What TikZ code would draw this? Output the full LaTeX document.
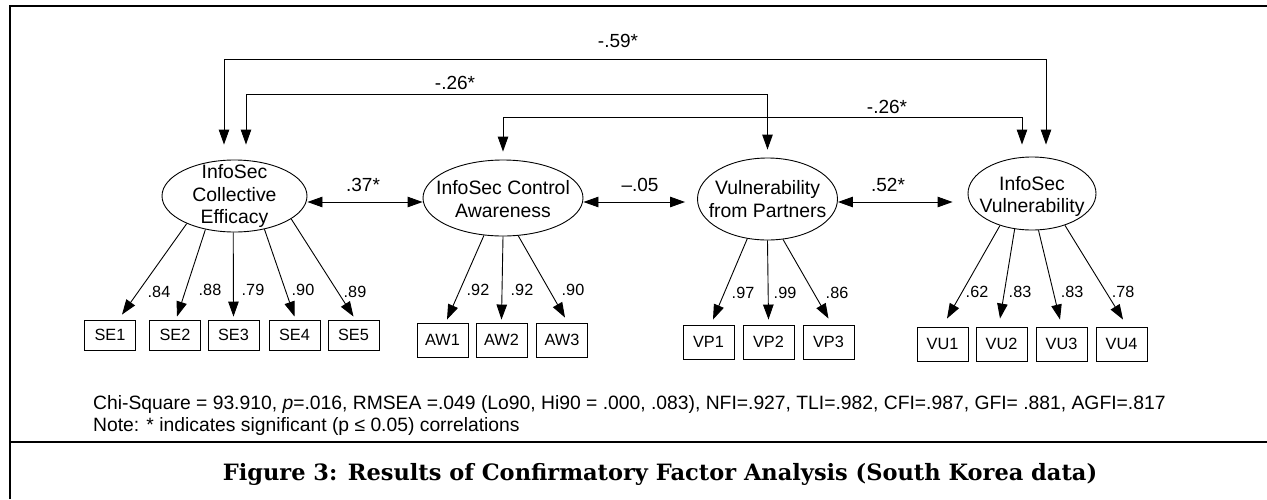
\documentclass[tikz,border=0pt]{standalone}
\usepackage{fontspec}
\setmainfont{Liberation Sans}
\newfontfamily\capfont{DejaVu Serif}
\usetikzlibrary{arrows.meta,shapes.geometric,calc}
\begin{document}
\begin{tikzpicture}[x=1pt,y=-1pt,
  lat/.style={draw, ellipse, line width=0.9pt, inner sep=0pt},
  ltxt/.style={align=center, font=\fontsize{19.4}{22.5}\selectfont, inner sep=0pt},
  ind/.style={draw, rectangle, line width=0.9pt, minimum width=51pt, inner sep=0pt, font=\fontsize{16.3}{16.3}\selectfont},
  arr/.style={line width=0.9pt, -{Triangle[length=15pt,width=10.5pt]}},
  cor/.style={line width=0.9pt, {Triangle[length=15pt,width=10.5pt]}-{Triangle[length=15pt,width=10.5pt]}},
  ld/.style={font=\fontsize{16.2}{16.2}\selectfont, inner sep=0pt},
  cl/.style={font=\fontsize{19}{19}\selectfont, inner sep=0pt},
  frame/.style={line width=2pt}
]
\useasboundingbox (0,0) rectangle (1267,499);
% frame
\draw[frame] (10,499) -- (10,6) -- (1267,6);
\draw[frame] (10,441.7) -- (1267,441.7);

% latent variables
\node[lat, minimum width=145pt, minimum height=72pt] (E1) at (234.5,196) {};
\node[ltxt] (E1t) at (234.5,196) {InfoSec\\Collective\\Efficacy};
\node[lat, minimum width=160pt, minimum height=76pt] (E2) at (503,198) {};
\node[ltxt] (E2t) at (503,199) {InfoSec Control\\Awareness};
\node[lat, minimum width=140pt, minimum height=82pt] (E3) at (767.5,199) {};
\node[ltxt] (E3t) at (767.5,199) {Vulnerability\\from Partners};
\node[lat, minimum width=128pt, minimum height=73pt] (E4) at (1032,193.5) {};
\node[ltxt] (E4t) at (1032,196.5) {InfoSec\\Vulnerability};

% indicators
\node[ind, minimum height=30pt] (SE1) at (110,335) {SE1};
\node[ind, minimum height=30pt] (SE2) at (175,335) {SE2};
\node[ind, minimum height=30pt] (SE3) at (233.5,335) {SE3};
\node[ind, minimum height=30pt] (SE4) at (294.5,335) {SE4};
\node[ind, minimum height=30pt] (SE5) at (353.5,335) {SE5};
\node[ind, minimum height=34pt] (AW1) at (442.5,340) {AW1};
\node[ind, minimum height=34pt] (AW2) at (501.5,340) {AW2};
\node[ind, minimum height=34pt] (AW3) at (562,340) {AW3};
\node[ind, minimum height=34pt] (VP1) at (708.5,342) {VP1};
\node[ind, minimum height=34pt] (VP2) at (768.5,342) {VP2};
\node[ind, minimum height=34pt] (VP3) at (828.5,342) {VP3};
\node[ind, minimum height=34pt] (VU1) at (942.5,344) {VU1};
\node[ind, minimum height=34pt] (VU2) at (1001.5,344) {VU2};
\node[ind, minimum height=34pt] (VU3) at (1061.5,344) {VU3};
\node[ind, minimum height=34pt] (VU4) at (1121.5,344) {VU4};

% loadings
\draw[arr] (E1.210) -- ([xshift=12pt,yshift=5pt]SE1.north);
\draw[arr] (E1.229) -- ([xshift=2pt,yshift=3pt]SE2.north);
\draw[arr] (E1.268) -- ([yshift=3pt]SE3.north);
\draw[arr] (E1.312) -- ([yshift=3pt]SE4.north);
\draw[arr] (E1.338) -- ([yshift=3pt]SE5.north);
\draw[arr] (E2.243) -- ([xshift=4.5pt,yshift=3pt]AW1.north);
\draw[arr] (E2.270) -- ([yshift=3pt]AW2.north);
\draw[arr] (E2.292) -- ([xshift=3pt,yshift=5pt]AW3.north);
\draw[arr] (E3.243) -- ([xshift=4.5pt,yshift=5pt]VP1.north);
\draw[arr] (E3.270) -- ([yshift=5pt]VP2.north);
\draw[arr] (E3.291) -- ([yshift=6pt]VP3.north);
\draw[arr] (E4.225) -- ([xshift=4.5pt,yshift=8pt]VU1.north);
\draw[arr] (E4.244) -- ([xshift=-1.5pt,yshift=8pt]VU2.north);
\draw[arr] (E4.280) -- ([xshift=-1.5pt,yshift=7pt]VU3.north);
\draw[arr] (E4.316) -- ([xshift=1.5pt,yshift=7pt]VU4.north);

\node[ld] (l1) at (159,292) {.84};
\node[ld] (l2) at (210,290) {.88};
\node[ld] (l3) at (253,290) {.79};
\node[ld] (l4) at (303,290) {.90};
\node[ld] (l5) at (355,292) {.89};
\node[ld] (l6) at (478,290) {.92};
\node[ld] (l7) at (522,290) {.92};
\node[ld] (l8) at (573,290) {.90};
\node[ld] (l9) at (743,293) {.97};
\node[ld] (l10) at (785,293) {.99};
\node[ld] (l11) at (837,293) {.86};
\node[ld] (l12) at (977,292) {.62};
\node[ld] (l13) at (1020,292) {.83};
\node[ld] (l14) at (1072,292) {.83};
\node[ld] (l15) at (1123,292) {.78};

% correlations (horizontal)
\coordinate (h) at (0,202);
\draw[cor] (E1.east |- h) -- (E2.west |- h);
\draw[cor, shorten >=12pt] (E2.east |- h) -- (E3.west |- h);
\draw[cor, shorten >=15pt] (E3.east |- h) -- (E4.west |- h);
\node[cl] (c1) at (363,185) {.37*};
\node[cl] (c2) at (640,185) {--.05};
\node[cl] (c3) at (888,185) {.52*};

% correlations (top)
\coordinate (yA) at (0,59);
\coordinate (yB) at (0,94);
\coordinate (yC) at (0,117);
\draw[cor, shorten <=15pt, shorten >=12pt] ([xshift=-10.5pt]E1.north) -- ([xshift=-10.5pt]E1.north |- yA) -| ([xshift=14pt]E4.north);
\draw[cor, shorten <=15pt, shorten >=8pt] ([xshift=11.5pt]E1.north) -- ([xshift=11.5pt]E1.north |- yB) -| (E3.north);
\draw[cor, shorten <=8pt, shorten >=12pt] (E2.north) -- (E2.north |- yC) -| ([xshift=-10pt]E4.north);
\node[cl] (c4) at (618,41) {-.59*};
\node[cl] (c5) at (455,83) {-.26*};
\node[cl] (c6) at (887,107) {-.26*};

% fit statistics
\node[anchor=base west, inner sep=0pt, font=\fontsize{19.3}{19.3}\selectfont] (chi) at (93,409) {Chi-Square = 93.910, \textit{p}=.016, RMSEA =.049 (Lo90, Hi90 = .000, .083), NFI=.927, TLI=.982, CFI=.987, GFI= .881, AGFI=.817};
\node[anchor=base west, inner sep=0pt, font=\fontsize{19.3}{19.3}\selectfont] (note) at (93,431) {Note: * indicates significant (p ≤ 0.05) correlations};

% caption
\node[inner sep=0pt, font=\capfont\bfseries\fontsize{22.5}{22.5}\selectfont] (cap) at (660,474) {Figure 3: Results of Confirmatory Factor Analysis (South Korea data)};
\end{tikzpicture}
\end{document}
